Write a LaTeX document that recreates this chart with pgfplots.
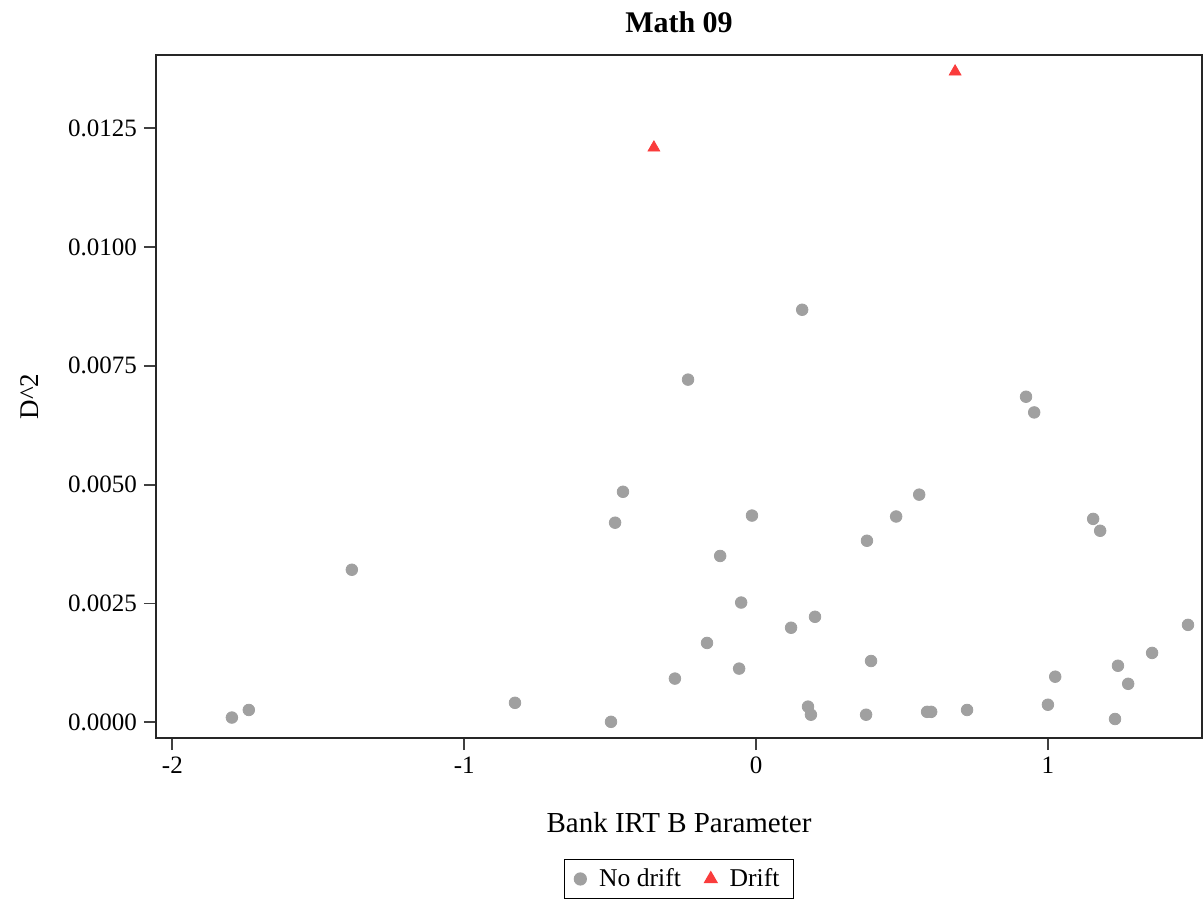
\documentclass[border=0pt]{standalone}
\usepackage{pgfplots}
\pgfplotsset{compat=1.18}
\usepackage{fontspec}
\setmainfont{Liberation Serif}
\definecolor{nodrift}{RGB}{160,160,160}
\definecolor{drift}{RGB}{250,60,60}
\begin{document}
\begin{tikzpicture}
\useasboundingbox (-78pt,-83pt) rectangle (523.5pt,369pt);
\begin{axis}[
  at={(0,0)}, anchor=south west,
  scale only axis, width=523pt, height=341.5pt,
  xmin=-2.056, xmax=1.528,
  ymin=-0.00033, ymax=0.01404,
  xtick={-2,-1,0,1},
  ytick={0,0.0025,0.005,0.0075,0.01,0.0125},
  scaled y ticks=false,
  yticklabel style={/pgf/number format/fixed, /pgf/number format/fixed zerofill, /pgf/number format/precision=4},
  /pgf/number format/assume math mode=true,
  tick label style={font=\fontsize{12.5}{14}\selectfont},
  tick pos=left, tick align=outside, major tick length=6pt,
  axis line style={line width=0.9pt, black!85},
  every tick/.style={line width=0.9pt, black!75},
  title={\textbf{Math 09}},
  title style={at={(axis description cs:0.5,1.0307)}, anchor=center, font=\fontsize{15}{17}\selectfont},
  xlabel={Bank IRT B Parameter},
  xlabel style={at={(axis description cs:0.5,-0.1245)}, anchor=center, font=\fontsize{14.5}{16}\selectfont},
  ylabel={D\^{}2},
  ylabel style={at={(axis description cs:-0.1205,0.5)}, anchor=center, rotate=0, font=\fontsize{13.5}{15}\selectfont},
  legend columns=2,
  legend style={at={(axis description cs:0.5,-0.2064)}, anchor=center, draw=black, line width=0.8pt,
    inner xsep=5pt, inner ysep=2.5pt,
    font=\fontsize{12.8}{14}\selectfont, /tikz/every even column/.append style={column sep=10pt},
    /tikz/every odd column/.append style={column sep=4.5pt}},
]
\addplot[only marks, mark=*, mark size=2.9pt, color=nodrift, mark options={draw=nodrift, fill=nodrift}] coordinates {
(-1.796,0.00010) (-1.738,0.00026) (-1.385,0.00321) (-0.826,0.00041)
(-0.497,0.00001) (-0.483,0.00420) (-0.456,0.00485) (-0.278,0.00092)
(-0.233,0.00721) (-0.168,0.00167) (-0.123,0.00350) (-0.058,0.00113)
(-0.051,0.00252) (-0.014,0.00435) (0.120,0.00199) (0.158,0.00868)
(0.178,0.00033) (0.188,0.00016) (0.202,0.00222) (0.377,0.00016)
(0.380,0.00382) (0.394,0.00129) (0.480,0.00433) (0.559,0.00479)
(0.586,0.00022) (0.600,0.00022) (0.723,0.00026) (0.925,0.00685)
(0.953,0.00652) (1.000,0.00037) (1.025,0.00096) (1.155,0.00428)
(1.179,0.00403) (1.230,0.00007) (1.240,0.00119) (1.275,0.00081)
(1.357,0.00146) (1.480,0.00205)
};
\addlegendentry{No drift}
\addplot[only marks, mark=triangle*, mark size=3.4pt, color=drift, mark options={draw=drift, fill=drift}] coordinates {
(-0.350,0.01209) (0.682,0.01369)
};
\addlegendentry{Drift}
\end{axis}
\end{tikzpicture}
\end{document}
